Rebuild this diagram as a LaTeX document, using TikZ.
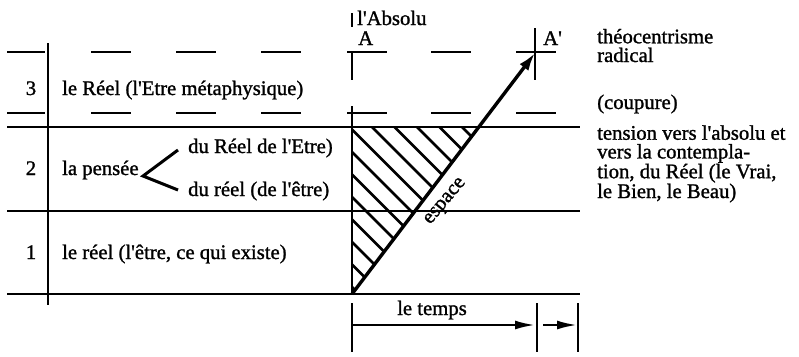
\documentclass[tikz,border=0pt]{standalone}
\usepackage{fontspec}
\setmainfont{Liberation Serif}[Ligatures=TeXOff,FakeBold=1.2]
\usetikzlibrary{arrows.meta}
\begin{document}
\begin{tikzpicture}[x=1pt,y=-1pt,
  txt/.style={inner sep=0pt, font=\fontsize{20.7}{18.7}\selectfont},
  rule/.style={line width=2.4pt},
  dashrule/.style={line width=2.4pt},
  hatch/.style={line width=2.6pt},
  timearrow/.style={line width=2.4pt,-{Latex[length=20pt,width=9pt]}},
  diag/.style={line width=3.4pt,-{Latex[length=18pt,width=11pt]}}]
\useasboundingbox (0,0) rectangle (799,356);

% coordinates
\coordinate (L1) at (7,127);   \coordinate (R1) at (580,127);
\coordinate (L2) at (7,211);   \coordinate (R2) at (580,211);
\coordinate (L3) at (7,294);   \coordinate (R3) at (580,294);
\coordinate (VT) at (48,43);   \coordinate (VB) at (48,305);
\coordinate (O) at (352,294);  \coordinate (Ap) at (535,53);
\coordinate (Tc) at (352,127); \coordinate (Td) at (479,127);

% hatching
\begin{scope}
  \clip (Tc) -- (O) -- (Td) -- cycle;
  \foreach \c in {65,87.5,110,132.5,155,177.5,200,222.5,245,267.5,290,312.5,335}
    \draw[hatch] (\c+50,50) -- (\c+350,350);
\end{scope}

% solid horizontal rules
\draw[rule] (L1) -- (R1);
\draw[rule] (L2) -- (R2);
\draw[rule] (L3) -- (R3);
\draw[rule] (VT) -- (VB);

% dashed rules (levels of the Absolute)
\foreach \y in {52,113}{
  \draw[dashrule] (7,\y) -- (45,\y);
  \foreach \a in {91,176,261,347,431,516}
    \draw[dashrule] (\a,\y) -- ++(40,0);
}

% vertical at A
\coordinate (a1) at (352,13);  \coordinate (a2) at (352,27);
\coordinate (a3) at (352,52);  \coordinate (a4) at (352,80);
\coordinate (a5) at (352,106);
\draw[rule] (a1) -- (a2);
\draw[rule] (a3) -- (a4);
\draw[rule] (a5) -- (O);
% vertical at A'
\coordinate (b1) at (535,28);  \coordinate (b2) at (535,80);
\draw[rule] (b1) -- (b2);

% diagonal arrow
\draw[diag] (O) -- (Ap);
\node[txt, rotate=50] (esp) at (446,202) {espace};

% time axis
\coordinate (t0) at (352,303); \coordinate (t0b) at (352,352);
\coordinate (t1) at (537,303); \coordinate (t1b) at (537,352);
\coordinate (t2) at (578,303); \coordinate (t2b) at (578,352);
\coordinate (s0) at (352,325); \coordinate (s1) at (535,325);
\coordinate (s2) at (543,325); \coordinate (s3) at (577,325);
\draw[rule] (t0) -- (t0b);
\draw[rule] (t1) -- (t1b);
\draw[rule] (t2) -- (t2b);
\draw[timearrow] (s0) -- (s1);
\draw[timearrow] (s2) -- (s3);
\node[txt, anchor=base] (temps) at (432,315) {le temps};

% texts
\node[txt, anchor=base] (n3) at (31,95) {3};
\node[txt, anchor=base] (n2) at (31,175) {2};
\node[txt, anchor=base] (n1) at (31,259) {1};
\node[txt, anchor=base west] (r3) at (62,95) {le Réel (l'Etre métaphysique)};
\node[txt, anchor=base west] (pens) at (62,175) {la pensée};
\node[txt, anchor=base west] (duR) at (188,153) {du Réel de l'Etre)};
\node[txt, anchor=base west] (dur) at (188,196) {du réel (de l'être)};
\node[txt, anchor=base west] (r1) at (62,259) {le réel (l'être, ce qui existe)};
\coordinate (v) at (143,176);
\coordinate (v1) at (178,150);
\coordinate (v2) at (178,190);
\draw[line width=3pt] (v1) -- (v) -- (v2);

\node[txt, anchor=base west] (abs) at (357,25) {l'Absolu};
\node[txt, anchor=base west] (A) at (358,45) {A};
\node[txt, anchor=base west] (A2) at (543,45) {A'};

\node[txt, anchor=base west, align=left] (theo) at (597,62) {théocentrisme\\radical};
\node[txt, anchor=base west] (coup) at (597,109) {(coupure)};
\node[txt, anchor=base west, align=left] (tens) at (597,198)
  {tension vers l'absolu et\\vers la contempla-\\tion, du Réel (le Vrai,\\le Bien, le Beau)};
\end{tikzpicture}
\end{document}
